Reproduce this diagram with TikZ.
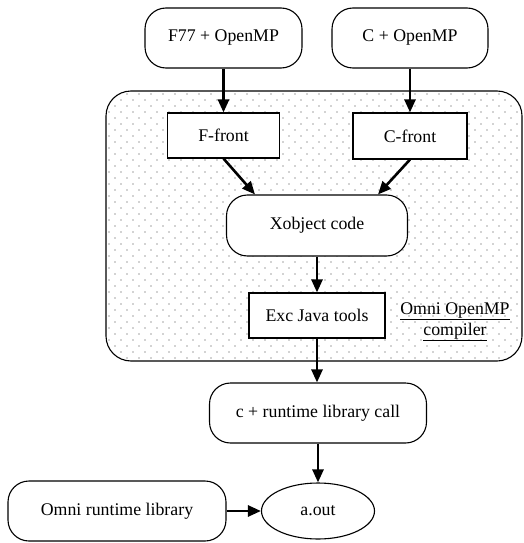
\documentclass[tikz,border=0pt]{standalone}
\usepackage{fontspec}
\setmainfont{Liberation Serif}
\usetikzlibrary{arrows.meta}
\usetikzlibrary{shapes.geometric}

\begin{document}
\begin{tikzpicture}[x=1pt,y=-1pt,
    every node/.style={font=\fontsize{17.8}{21}\selectfont},
    rbox/.style={draw,line width=1.1pt,fill=white,rounded corners=21pt,inner sep=0pt},
    sbox/.style={draw,line width=1.1pt,fill=white,inner sep=0pt},
    flow/.style={line width=2.6pt,-{Triangle[length=13pt,width=11pt]}}]
    \useasboundingbox (0,0) rectangle (523,543);
    % dotted compiler region
    \begin{scope}
      \clip[rounded corners=25pt] (106,91) rectangle (522,361);
      \foreach \r in {0,...,45}
      {
        \foreach \c in {0,...,35}
        {
          \fill[black!75] ({103+12*\c+6*mod(\r,2)},{94+6*\r}) circle (0.7pt);
        }
      }
    \end{scope}
    \draw[line width=1.1pt,rounded corners=25pt] (106,91) rectangle (522,361);
    % nodes
    \node[rbox,minimum width=157pt,minimum height=60pt] (f77) at (223.5,38) {F77 + OpenMP};
    \node[rbox,minimum width=156pt,minimum height=60pt] (comp) at (410,38) {C + OpenMP};
    \node[sbox,minimum width=112pt,minimum height=45pt] (ffront) at (223.5,135.5) {F-front};
    \node[sbox,minimum width=114pt,minimum height=46pt] (cfront) at (410,136) {C-front};
    \node[rbox,minimum width=181pt,minimum height=61pt] (xobj) at (317,225.5) {Xobject code};
    \node[sbox,minimum width=136pt,minimum height=45pt] (exc) at (317,315.5) {Exc Java tools};
    \node[align=center] (omp) at (455,322) {\underline{Omni OpenMP}\\\underline{compiler}};
    \node[rbox,minimum width=217pt,minimum height=60pt] (crt) at (318,413) {c + runtime library call};
    \node[rbox,minimum width=218pt,minimum height=60pt] (ort) at (117,511) {Omni runtime library};
    \node[ellipse,draw,line width=1.1pt,minimum width=113pt,minimum height=56pt,inner sep=0pt] (aout) at (318,511) {a.out};
    % connectors
    \draw[flow] (f77) -- (ffront);
    \draw[flow] (comp) -- (cfront);
    \draw[flow] (ffront.south) -- ([xshift=-62pt]xobj.north);
    \draw[flow] (cfront.south) -- ([xshift=61pt]xobj.north);
    \draw[flow] (xobj) -- (exc);
    \draw[flow] (exc.south) -- (exc.south |- crt.north);
    \draw[flow] (crt) -- (aout);
    \draw[flow] (ort) -- (aout);
  \end{tikzpicture}
\end{document}
